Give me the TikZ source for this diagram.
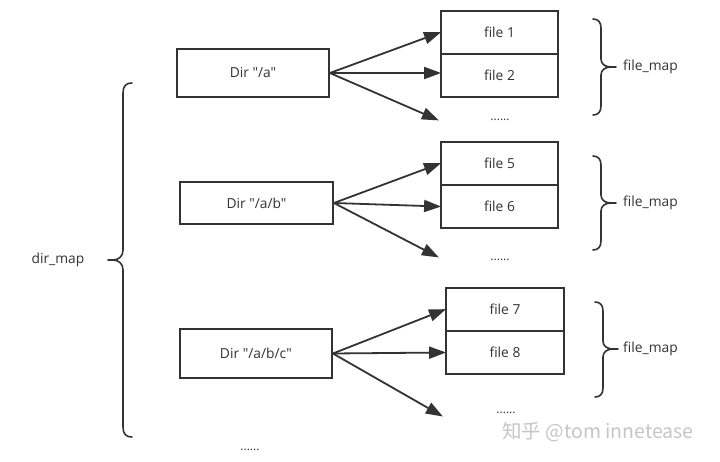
\documentclass[tikz,border=0pt]{standalone}
\usepackage{fontspec}
\setmainfont[Ligatures=TeXOff]{Open Sans}
\newfontfamily\cjk{Noto Sans CJK SC}
\usetikzlibrary{arrows.meta}
\definecolor{ink}{HTML}{333333}
\definecolor{wm}{HTML}{C6C6C6}
\begin{document}
\begin{tikzpicture}[x=1pt,y=-1pt,
  txt/.style={text=ink, inner sep=0pt, font=\fontsize{13.8}{16}\selectfont},
  dirbox/.style={txt, draw=ink, line width=1.8pt, minimum width=152pt},
  filebox/.style={txt, draw=ink, line width=1.8pt, minimum width=117pt, minimum height=43pt},
  arr/.style={draw=ink, line width=1.8pt, -{Triangle[length=17pt,width=12pt]}, shorten >=-1pt},
  brace/.style={draw=ink, line width=1.6pt, line cap=round, line join=round},
  dots/.style={txt, font=\fontsize{12}{14}\selectfont, anchor=base}]
\useasboundingbox (0,0) rectangle (720,462);
\fill[white] (0,0) rectangle (720,462);

% group A
\node[dirbox, minimum height=48pt] (dA) at (253,73) {Dir "/a"};
\node[filebox] (f1) at (499.5,32.5) {file 1};
\node[filebox] (f2) at (499.5,75.5) {file 2};
\coordinate (eA) at (438,120);
\draw[arr] (dA.east) -- (f1.west);
\draw[arr] (dA.east) -- (f2.west |- dA.east);
\draw[arr] (dA.east) -- (eA);
\node[dots] (dotA) at (500,121) {......};

% group B
\node[dirbox, minimum width=153pt, minimum height=42pt] (dB) at (256.5,203) {Dir "/a/b"};
\node[filebox] (f5) at (499.5,163.5) {file 5};
\node[filebox] (f6) at (499.5,206.5) {file 6};
\coordinate (eB) at (438,257);
\draw[arr] (dB.east) -- (f5.west);
\draw[arr] (dB.east) -- (f6.west);
\draw[arr] (dB.east) -- (eB);
\node[dots] (dotB) at (500,261) {......};

% group C
\node[dirbox, minimum height=49pt] (dC) at (256,353.5) {Dir "/a/b/c"};
\node[filebox, minimum width=118pt] (f7) at (505,309.5) {file 7};
\node[filebox, minimum width=118pt] (f8) at (505,352.5) {file 8};
\coordinate (eC) at (442,416);
\draw[arr] (dC.east) -- (f7.west);
\draw[arr] (dC.east) -- (f8.west);
\draw[arr] (dC.east) -- (eC);
\node[dots] (dotC) at (506,413) {......};

% file_map braces
\draw[brace] (593,19) .. controls (598,19) and (601,22) .. (601,28) -- (601,59)
  .. controls (601,64) and (605,67) .. (611,67) -- (616,67)
  (611,67) .. controls (605,67) and (601,70) .. (601,75) -- (601,106)
  .. controls (601,112) and (598,115) .. (593,115);
\node[txt, anchor=west] (fm1) at (623,67) {file\_map};

\draw[brace] (593,156) .. controls (598,156) and (601,159) .. (601,165) -- (601,195)
  .. controls (601,200) and (605,203) .. (611,203) -- (616,203)
  (611,203) .. controls (605,203) and (601,206) .. (601,211) -- (601,241)
  .. controls (601,247) and (598,250) .. (593,250);
\node[txt, anchor=west] (fm2) at (623,203) {file\_map};

\draw[brace] (595,302) .. controls (600,302) and (603,305) .. (603,311) -- (603,341)
  .. controls (603,346) and (607,349) .. (613,349) -- (618,349)
  (613,349) .. controls (607,349) and (603,352) .. (603,357) -- (603,388)
  .. controls (603,394) and (600,397) .. (595,397);
\node[txt, anchor=west] (fm3) at (623,349) {file\_map};

% dir_map brace
\draw[brace] (132,83) .. controls (126,83) and (123,86) .. (123,93) -- (123,250)
  .. controls (123,256) and (119,260) .. (113,260) -- (108,260)
  (113,260) .. controls (119,260) and (123,264) .. (123,270) -- (123,427)
  .. controls (123,434) and (126,437) .. (132,437);
\node[txt] (dm) at (58,260) {dir\_map};
\node[dots] (dotD) at (250,450) {......};

% watermark
\node[text=wm, inner sep=0pt, font=\cjk\fontsize{19.5}{22}\selectfont] (wmk) at (598,432) {知乎 @tom innetease};
\end{tikzpicture}
\end{document}
